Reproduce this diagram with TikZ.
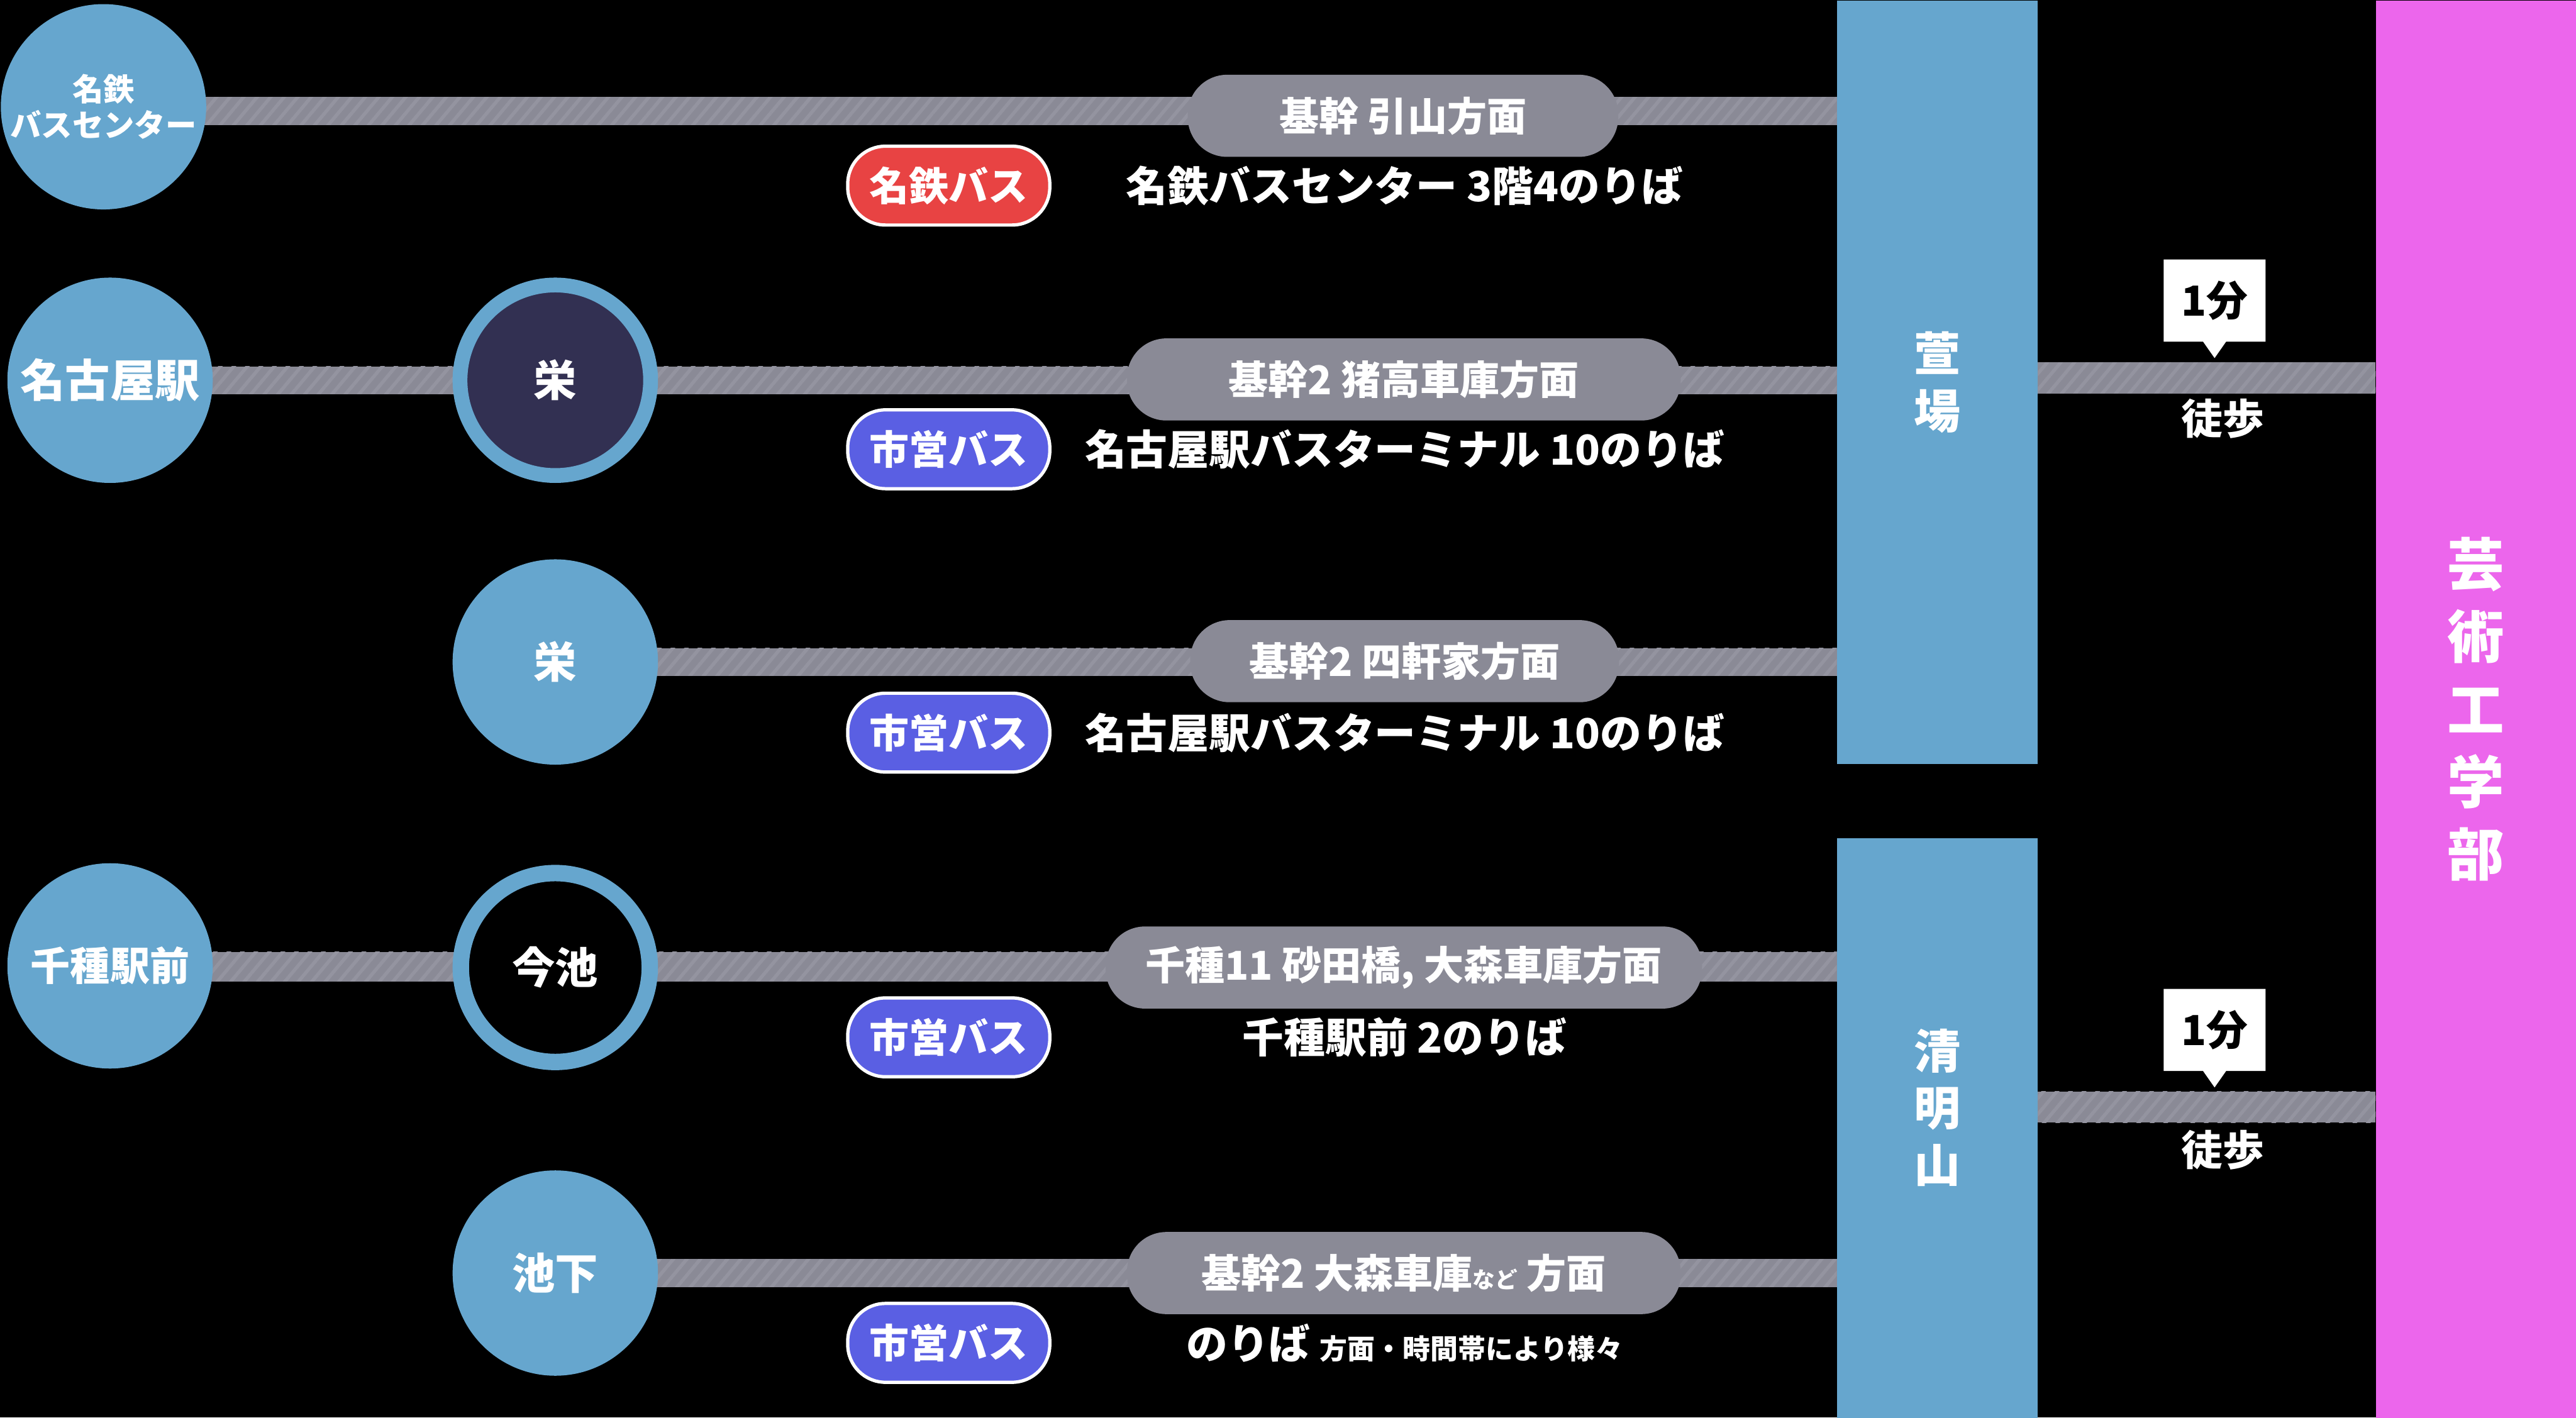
\documentclass[tikz,border=0pt]{standalone}
\usepackage{fontspec}
\setmainfont{Noto Sans CJK JP}
\usetikzlibrary{calc, backgrounds, patterns.meta, shapes.callouts}

\newlength{\pxu}
\setlength{\pxu}{0.03348cm}

\definecolor{stationblue}{HTML}{66A6CE}
\definecolor{sakaenavy}{HTML}{323052}
\definecolor{routegray}{HTML}{8A8A96}
\definecolor{stripegray}{HTML}{9494A0}
\definecolor{meitetsured}{HTML}{E84343}
\definecolor{citybusblue}{HTML}{5A5FE3}
\definecolor{campuspink}{HTML}{EC66EC}

\begin{document}
\begin{tikzpicture}[
  x=\pxu, y=-\pxu,
  stop/.style={circle, fill=stationblue, minimum size=125\pxu, inner sep=0pt, align=center,
               text=white, font=\bfseries\fontsize{25}{28}\selectfont},
  hubstop/.style={stop, fill=sakaenavy, draw=stationblue, line width=9\pxu, minimum size=116\pxu},
  ringstop/.style={stop, fill=black, draw=stationblue, line width=10\pxu, minimum size=115\pxu},
  routeline/.style={fill=routegray, postaction={pattern={Lines[angle=50, distance=6pt, line width=2pt]},
                    pattern color=stripegray}},
  via/.style={rectangle, rounded corners=24\pxu, fill=routegray, minimum height=50\pxu, inner sep=0pt,
              text=white, font=\bfseries\fontsize{23}{26}\selectfont},
  operator/.style={rectangle, rounded corners=23\pxu, draw=white, line width=2\pxu, minimum width=123\pxu,
                   minimum height=48\pxu, inner sep=0pt, text=white, font=\bfseries\fontsize{23}{26}\selectfont},
  platform/.style={inner sep=0pt, text=white, font=\bfseries\fontsize{24}{28}\selectfont},
  terminal/.style={rectangle, fill=stationblue, minimum width=122\pxu, inner sep=0pt, anchor=north west,
                   align=center, text=white, font=\bfseries\fontsize{27}{33}\selectfont},
  walktime/.style={rectangle callout, fill=white, minimum width=62\pxu, minimum height=50\pxu, inner sep=0pt,
                   callout pointer width=14\pxu, font=\bfseries\fontsize{24}{28}\selectfont},
  walklabel/.style={inner sep=0pt, text=white, font=\bfseries\fontsize{24}{28}\selectfont}
]

% Background
\begin{scope}[on background layer]
  \fill[black] (0,0) rectangle (1568,863);
\end{scope}
\useasboundingbox (0,0) rectangle (1568,863);

% Bus terminals (bars)
\node[terminal, minimum height=465\pxu] (kayaba) at (1118,0) {萱\\場};
\node[terminal, minimum height=353\pxu] (seimei) at (1118,510) {};
\node[terminal, fill=none] (seimeiname) at (1118,626) {清\\明\\山};
\node[terminal, fill=campuspink, minimum height=863\pxu, font=\bfseries\fontsize{33}{42}\selectfont]
  (geijutsu) at (1446,0) {芸\\術\\工\\学\\部};

% Starting stops
\node[stop, font=\bfseries\fontsize{18}{21}\selectfont] (meitetsu) at (63,65) {名鉄\\バスセンター};
\node[stop, font=\bfseries\fontsize{26}{28}\selectfont] (nagoya) at (67,231.5) {名古屋駅};
\node[stop, font=\bfseries\fontsize{23}{28}\selectfont] (chikusa) at (67,588) {千種駅前};

% Transfer stops
\node[hubstop] (sakaeA) at (338,231.5) {栄};
\node[stop] (sakaeB) at (338,403) {栄};
\node[ringstop] (imaike) at (338,589) {今池};
\node[stop] (ikeshita) at (338,775) {池下};

% Routes
\node[via, minimum width=262\pxu] (viaA) at (854,70.5) {基幹 引山方面};
\node[via, minimum width=337\pxu] (viaB) at (854.5,231) {基幹2 猪高車庫方面};
\node[via, minimum width=261\pxu] (viaC) at (855,402.5) {基幹2 四軒家方面};
\node[via, minimum width=363\pxu] (viaD) at (854.5,589) {千種11 砂田橋, 大森車庫方面};
\node[via, minimum width=337\pxu] (viaE) at (854.5,775)
  {基幹2 大森車庫{\fontsize{13}{15}\selectfont など} 方面};

% Operators
\node[operator, fill=meitetsured] (opA) at (577.5,113) {名鉄バス};
\node[operator, fill=citybusblue] (opB) at (577.5,273.5) {市営バス};
\node[operator, fill=citybusblue] (opC) at (577.5,446) {市営バス};
\node[operator, fill=citybusblue] (opD) at (577.5,631.5) {市営バス};
\node[operator, fill=citybusblue] (opE) at (577.5,817.5) {市営バス};

% Platforms
\node[platform] (noriA) at (855,113) {名鉄バスセンター 3階4のりば};
\node[platform] (noriB) at (855,273.5) {名古屋駅バスターミナル 10のりば};
\node[platform] (noriC) at (855,446) {名古屋駅バスターミナル 10のりば};
\node[platform] (noriD) at (855,631.5) {千種駅前 2のりば};
\node[platform] (noriE) at (855,817.5) {のりば {\fontsize{16}{18}\selectfont 方面・時間帯により様々}};

% Walking to campus
\coordinate (walkA) at (1343,230);
\coordinate (walkB) at (1343,674);
\node[walktime, callout absolute pointer={(1348,218)}] (minA) at (1348,183) {1分};
\node[walktime, callout absolute pointer={(1348,662)}] (minB) at (1348,627) {1分};
\node[walklabel] (tohoA) at (1353,255) {徒歩};
\node[walklabel] (tohoB) at (1353,700) {徒歩};

% Connecting lines
\begin{scope}[on background layer]
  \fill[routeline] ($(meitetsu.center)+(0,-6)$) rectangle ($(meitetsu.center -| kayaba.west)+(0,11)$);
  \fill[routeline] ($(nagoya.center)+(0,-8.5)$) rectangle ($(nagoya.center -| kayaba.west)+(0,8.5)$);
  \fill[routeline] ($(sakaeB.center)+(0,-8.5)$) rectangle ($(sakaeB.center -| kayaba.west)+(0,8.5)$);
  \fill[routeline] ($(chikusa.center)+(0,-8.5)$) rectangle ($(imaike.center -| seimei.west)+(0,8.5)$);
  \fill[routeline] ($(ikeshita.center)+(0,-8.5)$) rectangle ($(ikeshita.center -| seimei.west)+(0,8.5)$);
  \fill[routeline] ($(kayaba.east |- walkA)+(0,-9.5)$) rectangle ($(walkA -| geijutsu.west)+(0,9.5)$);
  \fill[routeline] ($(seimei.east |- walkB)+(0,-9.5)$) rectangle ($(walkB -| geijutsu.west)+(0,9.5)$);
\end{scope}

\end{tikzpicture}
\end{document}
